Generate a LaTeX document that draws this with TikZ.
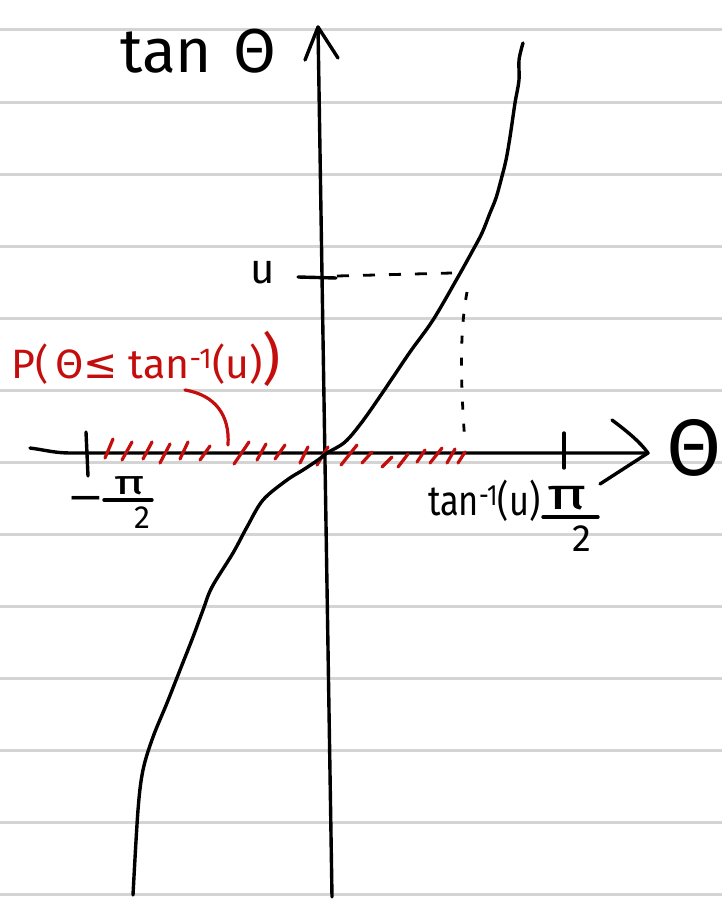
\documentclass[tikz,border=0pt]{standalone}
\usepackage{fontspec}
\usepackage{graphicx}
\setmainfont{Fira Sans}
\newfontfamily\djv{DejaVu Sans}
\definecolor{inkred}{RGB}{196,14,14}
\definecolor{ruling}{RGB}{212,212,212}
\newcommand{\FS}[1]{\fontsize{#1}{#1}\selectfont}
\begin{document}
\begin{tikzpicture}[x=1pt,y=-1pt,
  paper/.style={ruling, line width=3pt},
  ink/.style={black, line width=3.4pt, line cap=round, line join=round},
  hatch/.style={inkred, line width=3.2pt, line cap=round},
  lbl/.style={inner sep=0pt, outer sep=0pt}]
\useasboundingbox (0,0) rectangle (722,907);
\fill[white] (0,0) rectangle (722,907);
% ruled paper
\foreach \k in {0,...,12} \draw[paper] (0,{30+72*\k}) -- (722,{30+72*\k});

% vertical axis
\coordinate (ytop) at (318,27);
\coordinate (ybot) at (332,897);
\coordinate (yl) at (305,60);
\coordinate (yr) at (338,58);
\draw[ink] (ybot) -- (ytop);
\draw[ink] (yl) -- (ytop) -- (yr);

% horizontal axis
\coordinate (xstart) at (30,448);
\coordinate (xtip) at (648,453);
\coordinate (xu) at (612,420);
\coordinate (xd) at (600,484);
\draw[ink] (xstart) .. controls (45,450) and (55,453) .. (70,453) -- (xtip);
\draw[ink] (xu) .. controls (628,432) and (640,442) .. (xtip) -- (xd);

% ticks
\draw[ink] (86,432) -- (88,476);
\draw[ink] (564,433) -- (564,468);
\draw[ink] (298,277) -- (336,278);

% red hatching
\foreach \a/\b/\c/\d in {105/458/113/439, 122/460/132/442, 143/459/152/442,
  160/463/170/444, 180/459/188/442, 200/460/210/446, 234/464/249/442,
  257/460/266/444, 275/459/285/445, 300/463/308/447, 317/465/328/447,
  341/465/357/445, 362/463/372/452, 382/467/392/457, 398/467/408/454,
  417/462/425/450, 430/463/442/448, 447/463/455/449, 458/463/465/452}
  \draw[hatch] (\a,\b) -- (\c,\d);

% tan curve
\draw[ink] plot[smooth, tension=0.55] coordinates {
 (133,895) (138,810) (143,770) (153,737) (167,703) (180,670) (193,637)
 (203,610) (212,587) (233,553) (247,527) (263,500) (287,480) (303,470)
 (318,460) (327,453) (345,442) (362,422) (383,392) (410,352) (433,320)
 (458,277) (473,250) (482,233) (490,213) (496,198) (501,180) (506,160)
 (510,137) (515,103) (519,80) (519,60) (523,43)};

% dashed guides
\coordinate (pu) at (337,276);
\coordinate (pc) at (452,273);
\coordinate (pv) at (467,292);
\coordinate (pb) at (465,444);
\draw[black, line width=2.8pt, dash pattern=on 12pt off 14pt] (pu) -- (pc);
\draw[black, line width=2.8pt, dash pattern=on 8pt off 14pt] (pv) .. controls (458,340) and (462,400) .. (pb);

% red callout
\coordinate (cs) at (185,390);
\coordinate (ce) at (228,445);
\draw[hatch] (cs) .. controls (215,395) and (230,415) .. (ce);

% labels
\node[lbl, anchor=base west] (tanth) at (120,72) {\FS{62}tan\hspace{0.35em}Θ};
\node[lbl, anchor=base] (ulab) at (263,283) {\FS{42}u};
\node[lbl] (thx) at (694,448) {\FS{80}Θ};
\node[lbl, anchor=base west] (tinv) at (428,515)
  {\scalebox{0.82}[1]{\FS{42}tan\textsuperscript{-1}(u)}};
\node[lbl, anchor=base west, text=inkred] (prob) at (12,378)
  {\FS{41}P(\hspace{0.15em}Θ{\djv ≤} tan\textsuperscript{-1}(u)\FS{56})};

% pi/2 right
\node[lbl] (pir) at (567,498) {\scalebox{1.5}[1]{\FS{44}π}};
\draw[ink] (543,517) -- (598,517);
\node[lbl] (twor) at (582,539) {\FS{38}2};
% -pi/2 left
\node[lbl, anchor=base] (minl) at (86,513) {\scalebox{1.6}[1]{\FS{46}−}};
\node[lbl] (pil) at (130,486) {\scalebox{1.5}[1]{\FS{34}π}};
\draw[ink] (104,500) -- (152,500);
\node[lbl] (twol) at (142,518) {\FS{32}2};
\end{tikzpicture}
\end{document}
